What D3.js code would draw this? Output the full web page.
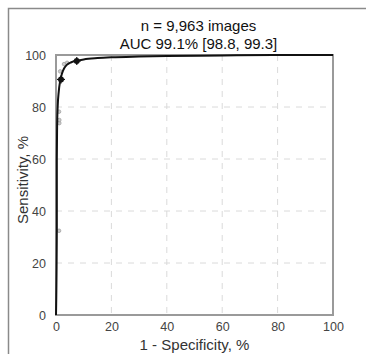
<!DOCTYPE html>
<html>
<head>
<meta charset="utf-8">
<script src="https://cdn.jsdelivr.net/npm/d3@7"></script>
<style>
  body { margin: 0; background: #fff; }
  svg { display: block; font-family: "Liberation Sans", Arial, sans-serif; }
  .axis path, .axis line { display: none; }
  .axis text { fill: #444; font-size: 12.5px; }
  .grid line { stroke: #dadada; stroke-dasharray: 6,6; }
</style>
</head>
<body>
<div id="chart"></div>
<script>
// ROC curve, 1 - specificity (%) vs sensitivity (%)
var fpr = [0, 0.3, 0.3, 0.4, 0.6, 1, 1.5, 2.2, 3, 4, 5.5, 7.5, 10, 15, 20, 30, 40, 60, 80, 100]
var tpr = [0, 33, 60, 72, 80, 86, 90, 93, 95, 96.3, 97.2, 97.8, 98.3, 98.8, 99.1, 99.4, 99.6, 99.8, 100, 100]

// operating points (black) and other readers (grey)
var opX = [1.8, 7.5]
var opY = [90.6, 97.7]
var greyX = [1.1, 1.2, 1.2, 1.1, 1.5, 2.9, 4]
var greyY = [32.4, 73.8, 75, 78.2, 93.7, 96.5, 97]

var ticks = [0, 20, 40, 60, 80, 100]
var titleLines = ["n = 9,963 images", "AUC 99.1% [98.8, 99.3]"]

var W = 366, H = 354
var margin = { top: 55, right: 33, bottom: 39, left: 56 }
var width = W - margin.left - margin.right
var height = H - margin.top - margin.bottom

var svg = d3.select("#chart").append("svg")
  .attr("width", W)
  .attr("height", H)

// outer frame (only left and top visible in the crop)
svg.append("path")
  .attr("d", "M8.5," + H + "V8.5H" + W)
  .attr("fill", "none")
  .attr("stroke", "#8a8a8a")
  .attr("stroke-width", 1.5)

var x = d3.scaleLinear().domain([0, 100]).range([0, width])
var y = d3.scaleLinear().domain([0, 100]).range([height, 0])

var g = svg.append("g")
  .attr("transform", "translate(" + margin.left + "," + margin.top + ")")

// grid
g.append("g").attr("class", "grid")
  .selectAll("line.v").data(ticks.slice(1, -1)).enter().append("line")
  .attr("x1", function(d) { return x(d) }).attr("x2", function(d) { return x(d) })
  .attr("y1", 0).attr("y2", height)
g.select(".grid")
  .selectAll("line.h").data(ticks.slice(1, -1)).enter().append("line")
  .attr("y1", function(d) { return y(d) }).attr("y2", function(d) { return y(d) })
  .attr("x1", 0).attr("x2", width)

g.append("rect")
  .attr("width", width)
  .attr("height", height)
  .attr("fill", "none")
  .attr("stroke", "#9a9a9a")
  .attr("stroke-width", 2)

g.append("g")
  .attr("class", "axis")
  .attr("transform", "translate(0," + height + ")")
  .call(d3.axisBottom(x).tickValues(ticks).tickSize(0).tickPadding(7))

g.append("g")
  .attr("class", "axis")
  .call(d3.axisLeft(y).tickValues(ticks).tickSize(0).tickPadding(10))

// grey points
g.selectAll(".grey").data(greyX).enter().append("circle")
  .attr("class", "grey")
  .attr("cx", function(d) { return x(d) })
  .attr("cy", function(d, i) { return y(greyY[i]) })
  .attr("r", 1.8)
  .attr("fill", "#ccc")
  .attr("stroke", "#999")
  .attr("stroke-width", 0.7)

// curve
var line = d3.line()
  .x(function(d) { return x(d[0]) })
  .y(function(d) { return y(d[1]) })
  .curve(d3.curveMonotoneX)

g.append("path")
  .datum(fpr.map(function(d, i) { return [d, tpr[i]] }))
  .attr("d", line)
  .attr("fill", "none")
  .attr("stroke", "#111")
  .attr("stroke-width", 2)

// operating points with small error bars
var op = g.selectAll(".op").data(opX).enter().append("g")
  .attr("class", "op")
  .attr("transform", function(d, i) { return "translate(" + x(d) + "," + y(opY[i]) + ")" })
op.append("line").attr("x1", -4).attr("x2", 4).attr("stroke", "#111").attr("stroke-width", 1.2)
op.append("line").attr("y1", -4).attr("y2", 4).attr("stroke", "#111").attr("stroke-width", 1.2)
op.append("circle").attr("r", 3).attr("fill", "#111")

// titles
svg.selectAll(".title").data(titleLines).enter().append("text")
  .attr("class", "title")
  .attr("x", margin.left + width / 2 + 4)
  .attr("y", function(d, i) { return 31 + i * 18 })
  .attr("text-anchor", "middle")
  .attr("font-size", 15)
  .attr("fill", "#111")
  .text(function(d) { return d })

svg.append("text")
  .attr("x", margin.left + width / 2)
  .attr("y", 350)
  .attr("text-anchor", "middle")
  .attr("font-size", 15)
  .attr("fill", "#333")
  .text("1 - Specificity, %")

svg.append("text")
  .attr("transform", "translate(28," + (margin.top + height / 2 - 5) + ") rotate(-90)")
  .attr("text-anchor", "middle")
  .attr("font-size", 15)
  .attr("fill", "#333")
  .text("Sensitivity, %")
</script>
</body>
</html>
